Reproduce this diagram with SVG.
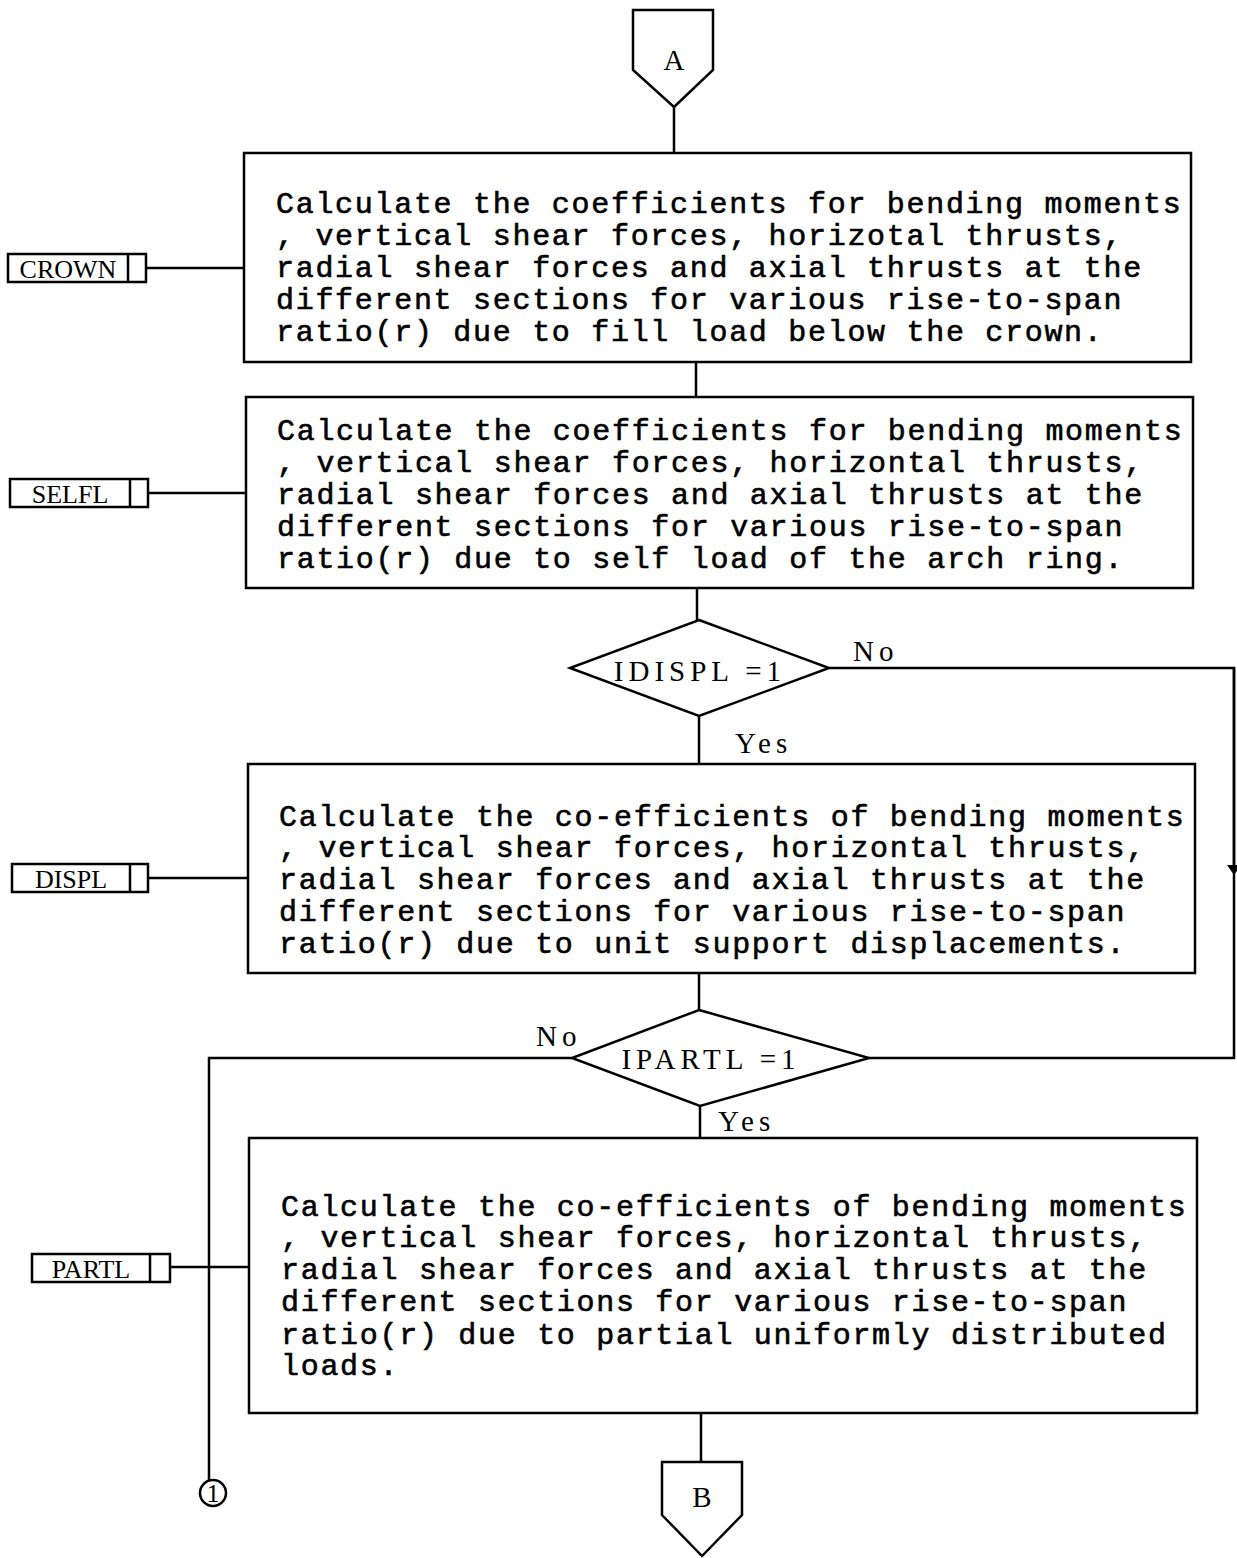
<svg xmlns="http://www.w3.org/2000/svg" width="1237" height="1558" viewBox="0 0 1237 1558">
<style>
.shape{fill:#fff;stroke:#000;stroke-width:2.5}
.line{fill:none;stroke:#000;stroke-width:2.5}
.body{font-family:"Liberation Mono",monospace;font-size:30px;letter-spacing:1.7px;fill:#000;stroke:#000;stroke-width:0.6}
.ser{font-family:"Liberation Serif",serif;font-size:29px;fill:#000}
.dia{font-family:"Liberation Serif",serif;font-size:29px;letter-spacing:5px;fill:#000}
.lab{font-family:"Liberation Serif",serif;font-size:26px;fill:#000}
</style>
<defs>
<marker id="arr" markerWidth="10" markerHeight="14" refX="5" refY="7" orient="auto" markerUnits="userSpaceOnUse">
<path d="M0,0 L10,7 L0,14 Z" fill="#000"/>
</marker>
</defs>
<g id="connectors">
<path class="line" d="M674,107 V153"/>
<path class="line" d="M696,362 V397"/>
<path class="line" d="M697,588 V620"/>
<path class="line" d="M829,668 H1234 V1058 H869"/>
<path class="line" d="M1234,668 V870" marker-end="url(#arr)"/>
<path class="line" d="M699,716 V764"/>
<path class="line" d="M699,973 V1010"/>
<path class="line" d="M572,1058 H209 V1480"/>
<path class="line" d="M700,1106 V1138"/>
<path class="line" d="M701,1413 V1462"/>
<path class="line" d="M146,268 H244"/>
<path class="line" d="M148,493 H246"/>
<path class="line" d="M148,878 H248"/>
<path class="line" d="M170,1267 H249"/>
<text class="dia" x="853" y="661">No</text>
<text class="dia" x="735" y="753" letter-spacing="3">Yes</text>
<text class="dia" x="536" y="1046">No</text>
<text class="dia" x="718" y="1131" letter-spacing="3">Yes</text>
</g>
<g id="A">
<path class="shape" d="M633,10 H713 V70 L674,107 L633,70 Z"/>
<text class="ser" x="674" y="70" text-anchor="middle" font-size="26">A</text>
</g>
<g id="crown">
<rect class="shape" x="244" y="153" width="947" height="209"/>
<text class="body" x="276" y="213">Calculate the coefficients for bending moments</text>
<text class="body" x="276" y="245">, vertical shear forces, horizotal thrusts,</text>
<text class="body" x="276" y="277">radial shear forces and axial thrusts at the</text>
<text class="body" x="276" y="309">different sections for various rise-to-span</text>
<text class="body" x="276" y="341">ratio(r) due to fill load below the crown.</text>
</g>
<g id="selfl">
<rect class="shape" x="246" y="397" width="947" height="191"/>
<text class="body" x="277" y="440">Calculate the coefficients for bending moments</text>
<text class="body" x="277" y="472">, vertical shear forces, horizontal thrusts,</text>
<text class="body" x="277" y="504">radial shear forces and axial thrusts at the</text>
<text class="body" x="277" y="536">different sections for various rise-to-span</text>
<text class="body" x="277" y="568">ratio(r) due to self load of the arch ring.</text>
</g>
<g id="idispl">
<path class="shape" d="M699,620 L829,668 L699,716 L570,668 Z"/>
<text class="dia" x="700" y="681" text-anchor="middle">IDISPL =1</text>
</g>
<g id="displ">
<rect class="shape" x="248" y="764" width="947" height="209"/>
<text class="body" x="279" y="826">Calculate the co-efficients of bending moments</text>
<text class="body" x="279" y="857">, vertical shear forces, horizontal thrusts,</text>
<text class="body" x="279" y="889">radial shear forces and axial thrusts at the</text>
<text class="body" x="279" y="921">different sections for various rise-to-span</text>
<text class="body" x="279" y="953">ratio(r) due to unit support displacements.</text>
</g>
<g id="ipartl">
<path class="shape" d="M699,1010 L869,1058 L700,1106 L572,1058 Z"/>
<text class="dia" x="711" y="1069" text-anchor="middle">IPARTL =1</text>
</g>
<g id="partl">
<rect class="shape" x="249" y="1138" width="948" height="275"/>
<text class="body" x="281" y="1216">Calculate the co-efficients of bending moments</text>
<text class="body" x="281" y="1247">, vertical shear forces, horizontal thrusts,</text>
<text class="body" x="281" y="1279">radial shear forces and axial thrusts at the</text>
<text class="body" x="281" y="1311">different sections for various rise-to-span</text>
<text class="body" x="281" y="1344">ratio(r) due to partial uniformly distributed</text>
<text class="body" x="281" y="1375">loads.</text>
</g>
<g id="B">
<path class="shape" d="M662,1462 H742 V1515 L702,1556 L662,1515 Z"/>
<text class="ser" x="702" y="1507" text-anchor="middle" font-size="26">B</text>
</g>
<g id="c1">
<circle class="shape" cx="213" cy="1493" r="13"/>
<text class="lab" x="213" y="1502" text-anchor="middle" font-size="22">1</text>
</g>
<g id="lab-crown">
<rect class="shape" x="8" y="254" width="138" height="28"/>
<path class="line" d="M128,254 V282"/>
<text class="lab" x="68" y="278" text-anchor="middle">CROWN</text>
</g>
<g id="lab-selfl">
<rect class="shape" x="10" y="479" width="138" height="28"/>
<path class="line" d="M130,479 V507"/>
<text class="lab" x="70" y="503" text-anchor="middle">SELFL</text>
</g>
<g id="lab-displ">
<rect class="shape" x="12" y="864" width="136" height="28"/>
<path class="line" d="M130,864 V892"/>
<text class="lab" x="71" y="888" text-anchor="middle">DISPL</text>
</g>
<g id="lab-partl">
<rect class="shape" x="32" y="1254" width="138" height="28"/>
<path class="line" d="M150,1254 V1282"/>
<text class="lab" x="91" y="1278" text-anchor="middle">PARTL</text>
</g>
</svg>
